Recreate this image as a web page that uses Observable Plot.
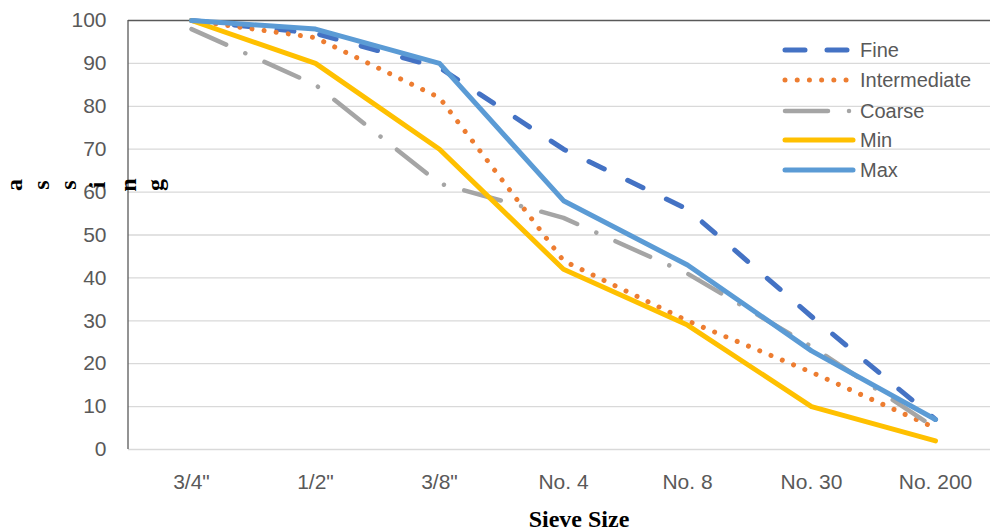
<!DOCTYPE html>
<html>
<head>
<meta charset="utf-8">
<script src="https://cdn.jsdelivr.net/npm/d3@7"></script>
<script src="https://cdn.jsdelivr.net/npm/@observablehq/plot@0.6"></script>
<style>
  html, body { margin: 0; padding: 0; background: #fff; }
  #chart { position: relative; width: 990px; height: 531px; }
</style>
</head>
<body>
<div id="chart"></div>
<script>
const sieves = ['3/4"', '1/2"', '3/8"', 'No. 4', 'No. 8', 'No. 30', 'No. 200'];
const fine = [100, 97, 89, 70, 56, 31, 7];
const intermediate = [100, 96, 82, 44, 30, 18, 5];
const coarse = [98, 85, 62, 54, 41, 24, 5];
const minLimit = [100, 90, 70, 42, 29, 10, 2];
const maxLimit = [100, 98, 90, 58, 43, 23, 7];
const yTicks = [0, 10, 20, 30, 40, 50, 60, 70, 80, 90, 100];

const seriesDefs = [
  {name: "Fine", values: fine, color: "#4472C4", width: 5, dash: "17,26", legendDash: "20,22"},
  {name: "Intermediate", values: intermediate, color: "#ED7D31", width: 5, dash: "0.01,12.2", legendDash: "0.01,12.2"},
  {name: "Coarse", values: coarse, color: "#A5A5A5", width: 4.5, dash: "38,21,0.01,21", legendDash: "43,21,0.01,21"},
  {name: "Min", values: minLimit, color: "#FFC000", width: 5, dash: null, legendDash: null},
  {name: "Max", values: maxLimit, color: "#5B9BD5", width: 5, dash: null, legendDash: null}
];

const rows = seriesDefs.map(s => sieves.map((k, i) => ({sieve: k, value: s.values[i]})));

const font = "'Liberation Sans', Arial, sans-serif";

const lineMarks = seriesDefs.map((s, idx) => Plot.line(rows[idx], {
  x: "sieve", y: "value",
  stroke: s.color, strokeWidth: s.width,
  strokeDasharray: s.dash || undefined,
  strokeLinecap: "round", strokeLinejoin: "round"
}));

const plot = Plot.plot({
  width: 990,
  height: 531,
  marginTop: 20,
  marginBottom: 82,
  marginLeft: 128,
  marginRight: 0,
  style: {fontFamily: font, fontSize: "21px", color: "#595959", background: "#fff", overflow: "visible"},
  x: {type: "point", domain: sieves, range: [189.5, 936], padding: 0, label: null},
  y: {domain: [0, 100], range: [449, 20], label: null},
  marks: [
    Plot.ruleY(yTicks.filter(d => d < 100), {stroke: "#D9D9D9", strokeWidth: 1.3, strokeOpacity: 1}),
    Plot.ruleY([100], {stroke: "#595959", strokeWidth: 1.3}),
    Plot.axisY({ticks: yTicks, tickSize: 0, tickPadding: 22, label: null, fill: "#595959", fontSize: 21}),
    Plot.axisX({tickSize: 0, tickPadding: 25, label: null, fill: "#595959", fontSize: 21}),
    ...lineMarks
  ]
});

document.getElementById("chart").appendChild(plot);

const svg = d3.select(plot);
// left axis line
svg.append("line")
  .attr("x1", 128).attr("x2", 128).attr("y1", 20).attr("y2", 449)
  .attr("stroke", "#595959").attr("stroke-width", 1.3);

// x axis title
svg.append("text")
  .attr("x", 579).attr("y", 527)
  .attr("text-anchor", "middle")
  .attr("font-family", "'Liberation Serif', 'Times New Roman', serif")
  .attr("font-weight", "bold").attr("font-size", 24).attr("fill", "#000")
  .text("Sieve Size");

// garbled y axis title letters (as rendered in reference)
const yLetters = ["a", "s", "s", "i", "n", "g"];
const yLetterX = [14, 41, 68, 97, 128, 155];
yLetters.forEach((ch, i) => {
  svg.append("text")
    .attr("transform", `translate(${yLetterX[i]},185) rotate(-90)`)
    .attr("text-anchor", "middle").attr("dy", "0.35em")
    .attr("font-family", "'Liberation Serif', 'Times New Roman', serif")
    .attr("font-weight", "bold").attr("font-size", 24).attr("fill", "#000")
    .text(ch);
});

// legend
const lg = svg.append("g");
seriesDefs.forEach((s, i) => {
  const y = [50, 80, 111, 140, 170][i];
  lg.append("line")
    .attr("x1", 785).attr("x2", 853).attr("y1", y).attr("y2", y)
    .attr("stroke", s.color).attr("stroke-width", s.width)
    .attr("stroke-linecap", "round")
    .attr("stroke-dasharray", s.legendDash);
  lg.append("text")
    .attr("x", 860).attr("y", y).attr("dy", "0.35em")
    .attr("text-anchor", "start")
    .attr("font-family", font).attr("font-size", 20).attr("fill", "#595959")
    .text(s.name);
});
</script>
</body>
</html>
